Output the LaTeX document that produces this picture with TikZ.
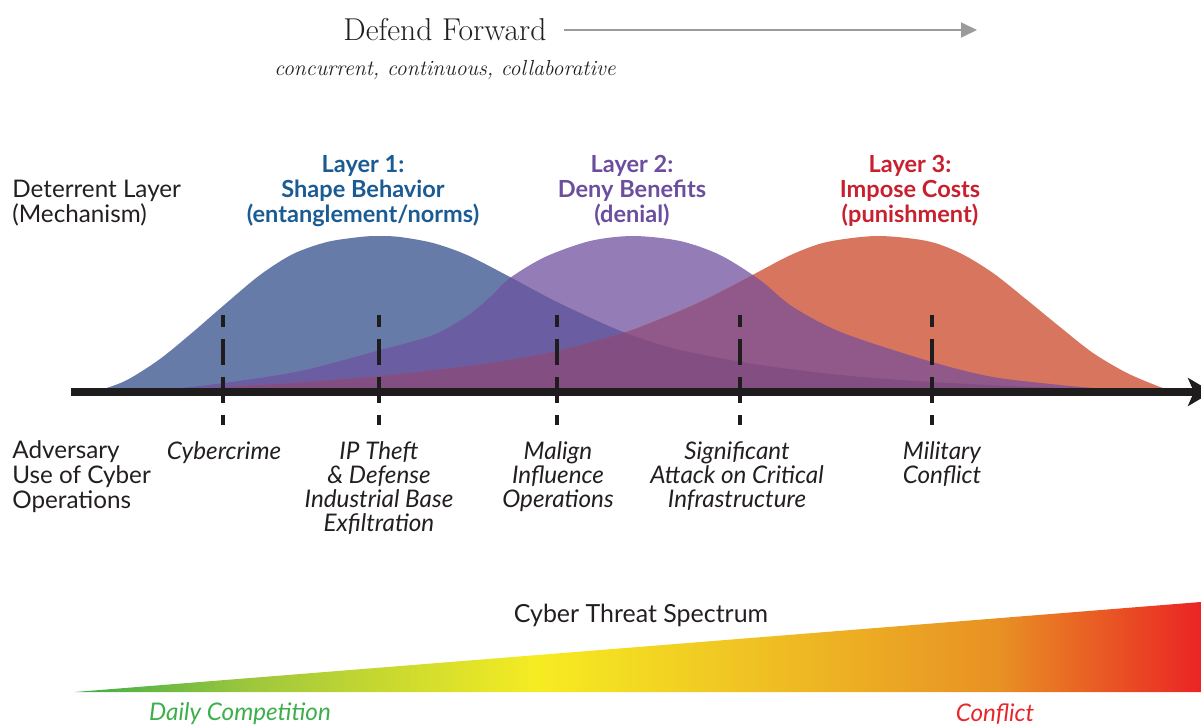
\documentclass[tikz,border=0pt]{standalone}
\usepackage{fontspec}
\setsansfont{Lato}
\usetikzlibrary{arrows.meta}

\definecolor{txtdark}{RGB}{35,31,32}
\definecolor{axisblack}{RGB}{30,28,28}
\definecolor{arrowgray}{RGB}{155,155,155}
\definecolor{layone}{RGB}{103,123,168}
\definecolor{laytwo}{RGB}{148,125,182}
\definecolor{laythree}{RGB}{216,117,94}
\definecolor{layonetwo}{RGB}{107,93,161}
\definecolor{laytwothree}{RGB}{145,88,138}
\definecolor{layall}{RGB}{131,78,130}
\definecolor{onetxt}{RGB}{27,91,148}
\definecolor{twotxt}{RGB}{108,78,158}
\definecolor{threetxt}{RGB}{200,32,47}
\definecolor{thgreen}{RGB}{62,172,72}
\definecolor{thlime}{RGB}{160,200,60}
\definecolor{thyellow}{RGB}{246,236,34}
\definecolor{thorange}{RGB}{232,145,36}
\definecolor{thred}{RGB}{234,36,36}
\definecolor{compgreen}{RGB}{60,175,75}
\definecolor{conflred}{RGB}{230,40,45}

\pgfdeclarehorizontalshading{threatshade}{100bp}{color(0bp)=(thgreen); color(25bp)=(thgreen); color(33bp)=(thlime); color(45.6bp)=(thyellow); color(66bp)=(thorange); color(75bp)=(thred); color(100bp)=(thred)}

\def\bluecurve{plot[smooth] coordinates {(84,392) (100,390) (127,380) (160,359) (193,332) (223,306) (260,275) (293,254) (327,242) (360,237) (378,236) (400,237) (433,243) (467,255) (510,277) (557,302) (623,332) (680,350) (760,365) (850,376) (932,382) (1010,386) (1093,389.5) (1120,392)} -- cycle}
\def\purplecurve{plot[smooth] coordinates {(120,392) (160,390) (223,383) (300,371) (380,350) (433,335) (467,316) (490,297) (510,278) (545,257) (590,241) (633,236) (680,241) (720,255) (760,280) (793,307) (843,333) (932,362) (993,377) (1060,385) (1093,388) (1140,392)} -- cycle}
\def\redcurve{plot[smooth] coordinates {(120,392) (160,390.5) (223,387) (300,382.5) (380,376) (460,367) (500,361.5) (557,351) (623,333) (670,315) (700,302) (730,287) (760,271) (793,254) (827,242) (877,236) (927,241) (960,253) (993,273) (1027,300) (1060,327) (1093,353) (1127,373) (1160,387) (1175,392)} -- cycle}

\begin{document}
\begin{tikzpicture}[x=0.02cm, y=-0.02cm,
  lbl/.style={font=\sffamily\fontsize{13.8}{14.2}\selectfont, text=txtdark, inner sep=0pt},
  cyberop/.style={font=\sffamily\itshape\fontsize{13.8}{13.7}\selectfont, text=txtdark, inner sep=0pt, align=center, anchor=north},
  layer/.style={font=\sffamily\bfseries\fontsize{13.4}{14.2}\selectfont, inner sep=0pt, align=center},
  tick/.style={line width=2.1pt, axisblack, dash pattern=on 14.8pt off 6.8pt, dash phase=8pt}]
  \useasboundingbox (0,0) rectangle (1201,726);

  \fill[layone] \bluecurve;
  \fill[laytwo] \purplecurve;
  \fill[laythree] \redcurve;
  \begin{scope}
    \clip \bluecurve;
    \fill[layonetwo] \purplecurve;
  \end{scope}
  \begin{scope}
    \clip \purplecurve;
    \fill[laytwothree] \redcurve;
  \end{scope}
  \begin{scope}
    \clip \bluecurve;
    \fill[layall] \redcurve;
  \end{scope}

  \foreach \x/\n in {223/a, 379/b, 557/c, 740/d, 932/e} {
    \coordinate (top\n) at (\x,315);
    \coordinate (bot\n) at (\x,425);
    \draw[tick] (top\n) -- (bot\n);
  }
  \coordinate (axisleft) at (71,392);
  \coordinate (axisright) at (1212,392);
  \draw[line width=4.2pt, axisblack, -{Stealth[length=0.48cm, width=0.56cm, inset=0.12cm]}] (axisleft) -- (axisright);

  \node[font=\fontsize{18}{20}\selectfont, text=txtdark, inner sep=0pt] (defend) at (445,30) {Defend Forward};
  \node[font=\itshape\fontsize{12.4}{14}\selectfont, text=txtdark, inner sep=0pt] (ccc) at (445,70) {concurrent, continuous, collaborative};
  \coordinate (defendend) at (977,30);
  \draw[arrowgray, line width=1.1pt, -{Triangle[length=0.32cm, width=0.3cm]}] ([xshift=0.34cm]defend.east) -- (defendend);

  \node[lbl, anchor=west, align=left] (detlayer) at (12,203) {Deterrent Layer\\(Mechanism)};
  \node[layer, text=onetxt] (layerone) at (363,191) {Layer 1:\\Shape Behavior\\(entanglement/norms)};
  \node[layer, text=twotxt] (layertwo) at (632,191) {Layer 2:\\Deny Benefits\\(denial)};
  \node[layer, text=threetxt] (layerthree) at (910,191) {Layer 3:\\Impose Costs\\(punishment)};

  \node[lbl, anchor=west, align=left] (advuse) at (12,477) {Adversary\\Use of Cyber\\Operations};
  \node[cyberop] (cybercrime) at (224,441) {Cybercrime};
  \node[cyberop] (iptheft) at (379,441) {IP Theft\\\& Defense\\Industrial Base\\Exfiltration};
  \node[cyberop] (malign) at (558,441) {Malign\\Influence\\Operations};
  \node[cyberop] (attack) at (737,441) {Significant\\Attack on Critical\\Infrastructure};
  \node[cyberop] (military) at (942,441) {Military\\Conflict};

  \coordinate (specleft) at (75,692);
  \coordinate (specright) at (1201,692);
  \coordinate (spectop) at (1201,602);
  \shade[shading=threatshade] (specleft) -- (spectop) -- (specright) -- cycle;
  \node[lbl, font=\sffamily\fontsize{14.2}{15}\selectfont] (spectrum) at (641,615) {Cyber Threat Spectrum};
  \node[cyberop, anchor=center, text=compgreen] (daily) at (240,714) {Daily Competition};
  \node[cyberop, anchor=center, text=conflred] (conflict) at (995,714) {Conflict};
\end{tikzpicture}
\end{document}
